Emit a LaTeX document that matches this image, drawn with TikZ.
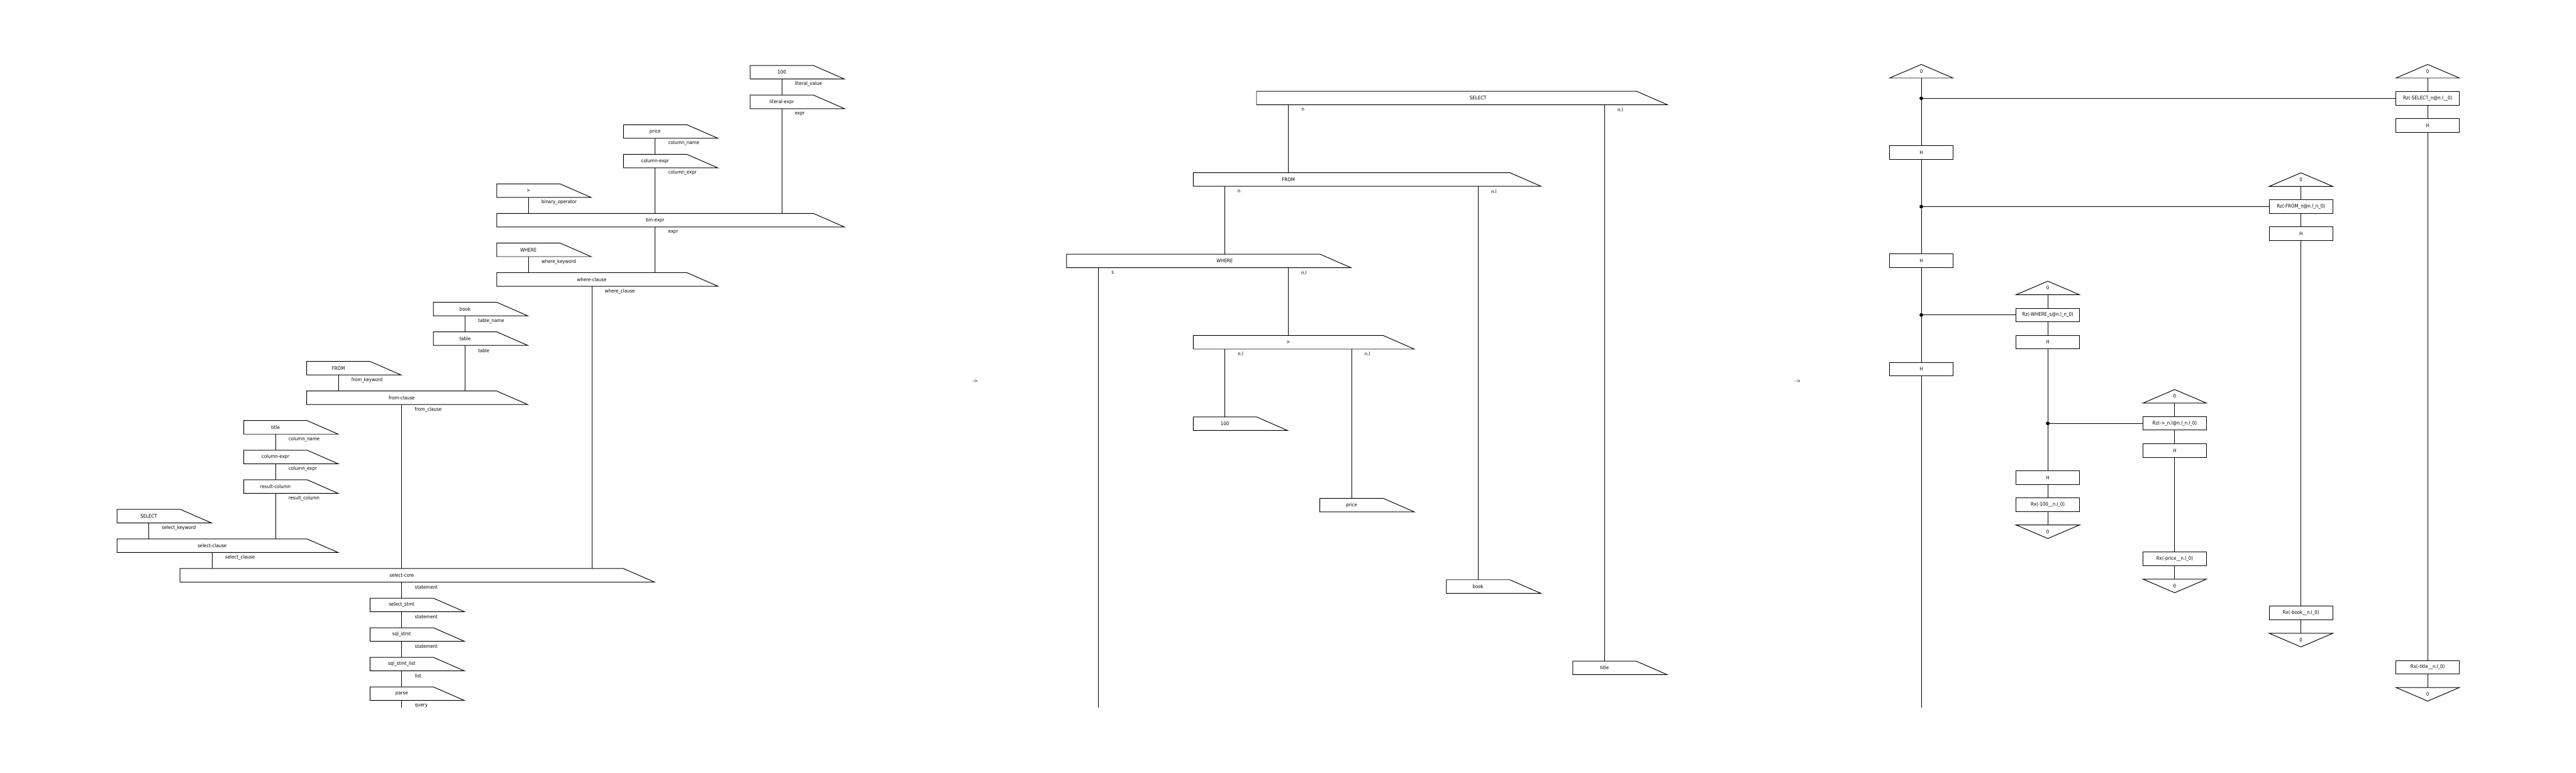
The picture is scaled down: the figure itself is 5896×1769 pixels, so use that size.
\documentclass[tikz,border=0pt]{standalone}
\usepackage{fontspec}
\setmainfont{DejaVu Sans}[FakeStretch=0.9]

\begin{document}
\begin{tikzpicture}[x=0.1mm,y=-0.1mm,
    every node/.style={font=\fontsize{3.2}{3.8}\selectfont,inner sep=0pt,outer sep=0pt},
    tag/.style={minimum width=#1,minimum height=3.1mm},tag/.default=14.5mm,
    gate/.style={draw,line width=0.4pt,minimum width=14.5mm,minimum height=3.1mm},
    qbit/.style={minimum width=14.5mm,minimum height=3.1mm},
    dot/.style={circle,fill,minimum size=0.85mm},
    lbl/.style={anchor=west,xshift=3mm,yshift=-1.15mm},
    wire/.style={line width=0.4pt}]
    \useasboundingbox (0,0) rectangle (5896,1769);
    % parse tree
    \node[tag] (p100) at (1789.5,165.5) {100};
    \node[tag] (plit) at (1789.5,233.2) {literal-expr};
    \node[tag] (pprice) at (1499.5,300.9) {price};
    \node[tag] (pcolb) at (1499.5,368.7) {column-expr};
    \node[tag] (pgt) at (1209.5,436.4) {>};
    \node[tag=72.5mm] (pbin) at (1499.5,504.1) {bin-expr};
    \node[tag] (pwhere) at (1209.5,571.8) {WHERE};
    \node[tag=43.5mm] (pwc) at (1354.5,639.5) {where-clause};
    \node[tag] (pbook) at (1064.5,707.3) {book};
    \node[tag] (ptable) at (1064.5,775.0) {table};
    \node[tag] (pfrom) at (774.5,842.7) {FROM};
    \node[tag=43.5mm] (pfc) at (919.5,910.4) {from-clause};
    \node[tag] (ptitle) at (630.5,978.1) {title};
    \node[tag] (pcola) at (630.5,1045.9) {column-expr};
    \node[tag] (prc) at (630.5,1113.6) {result-column};
    \node[tag] (pselect) at (340.5,1181.3) {SELECT};
    \node[tag=43.5mm] (psc) at (485.5,1249.0) {select-clause};
    \node[tag=101.5mm] (pcore) at (919.5,1316.7) {select-core};
    \node[tag] (pstmt) at (919.5,1384.5) {select\_stmt};
    \node[tag] (psql) at (919.5,1452.2) {sql\_stmt};
    \node[tag] (plist) at (919.5,1519.9) {sql\_stmt\_list};
    \node[tag] (pparse) at (919.5,1587.6) {parse};
    \coordinate (pend) at (919.5,1620);
    \foreach \a/\b/\t in {p100/plit/literal\_value,plit/pbin/expr,pprice/pcolb/column\_name,
        pcolb/pbin/column\_expr,pgt/pbin/binary\_operator,pbin/pwc/expr,pwhere/pwc/where\_keyword,
        pwc/pcore/where\_clause,pbook/ptable/table\_name,ptable/pfc/table,pfrom/pfc/from\_keyword,
        pfc/pcore/from\_clause,ptitle/pcola/column\_name,pcola/prc/column\_expr,prc/psc/result\_column,
        pselect/psc/select\_keyword,psc/pcore/select\_clause,pcore/pstmt/statement,
        pstmt/psql/statement,psql/plist/statement,plist/pparse/list}
      \draw[wire] (\a.south) -- (\a.south |- \b.north) node[lbl,at start] {\t};
    \draw[wire] (pparse.south) -- (pparse.south |- pend) node[lbl,at start] {query};
    \node (arrA) at (2232,873) {->};
    % syntax tree
    \node[tag=87mm,label={[name=aSelect-t,xshift=7.2mm]center:SELECT}] (aSelect) at (3311,224.5) {};
    \node[tag=72.5mm,label={[name=aFrom-t,xshift=-14.45mm]center:FROM}] (aFrom) at (3093.5,410.8) {};
    \node[tag=58mm,label={[name=aWhere-t,xshift=7.2mm]center:WHERE}] (aWhere) at (2731,597.1) {};
    \node[tag=43.5mm,label={[name=aGt-t]center:>}] (aGt) at (2948.5,783.4) {};
    \node[tag,label={[name=a100-t]center:100}] (a100) at (2803.5,969.7) {};
    \node[tag,label={[name=aPrice-t]center:price}] (aPrice) at (3093.5,1156.0) {};
    \node[tag,label={[name=aBook-t]center:book}] (aBook) at (3383,1342.3) {};
    \node[tag,label={[name=aTitle-t]center:title}] (aTitle) at (3672.5,1528.6) {};
    \coordinate (aend) at (2514,1620);
    \foreach \a/\b/\t in {aSelect/aFrom/n,aSelect/aTitle/n.l,aFrom/aWhere/n,aFrom/aBook/n.l,
        aWhere/aGt/n.l,aGt/a100/n.l,aGt/aPrice/n.l}
      \draw[wire] (\b-t |- \a.south) -- (\b-t |- \b.north) node[lbl,at start] {\t};
    \draw[wire] (aend |- aWhere.south) -- (aend) node[lbl,at start] {s};
    \foreach \n in {p100,plit,pprice,pcolb,pgt,pbin,pwhere,pwc,pbook,ptable,pfrom,pfc,ptitle,pcola,
        prc,pselect,psc,pcore,pstmt,psql,plist,pparse,aSelect,aFrom,aWhere,aGt,a100,aPrice,aBook,aTitle}
      \draw[wire] (\n.north west) -- (\n.north east) -- ([xshift=7.1mm]\n.south east) -- (\n.south west) -- cycle;
    \node (arrB) at (4115,873) {->};
    % circuit
    \node[qbit] (q0) at (4397.5,163) {0};
    \node[dot] (d1) at (4397.5,225) {};
    \node[gate] (hA) at (4397.5,349) {H};
    \node[dot] (d2) at (4397.5,473) {};
    \node[gate] (hB) at (4397.5,597) {H};
    \node[dot] (d3) at (4397.5,721) {};
    \node[gate] (hC) at (4397.5,845) {H};
    \coordinate (qend) at (4397.5,1620);
    \node[qbit] (q1) at (4687,659) {0};
    \node[gate] (rz1) at (4687,721) {Rz(-WHERE\_s@n.l\_n\_0)};
    \node[gate] (h1) at (4687,783) {H};
    \node[dot] (d4) at (4687,969) {};
    \node[gate] (h1b) at (4687,1093) {H};
    \node[gate] (rx1) at (4687,1155) {Rx(-100\_\_n.l\_0)};
    \node[qbit] (m1) at (4687,1217) {0};
    \node[qbit] (q2) at (4977.5,907) {0};
    \node[gate] (rz2) at (4977.5,969) {Rz(->\_n.l@n.l\_n.l\_0)};
    \node[gate] (h2) at (4977.5,1031) {H};
    \node[gate] (rx2) at (4977.5,1279) {Rx(-price\_\_n.l\_0)};
    \node[qbit] (m2) at (4977.5,1341) {0};
    \node[qbit] (q3) at (5266.5,411) {0};
    \node[gate] (rz3) at (5266.5,473) {Rz(-FROM\_n@n.l\_n\_0)};
    \node[gate] (h3) at (5266.5,535) {H};
    \node[gate] (rx3) at (5266.5,1403) {Rx(-book\_\_n.l\_0)};
    \node[qbit] (m3) at (5266.5,1465) {0};
    \node[qbit] (q4) at (5556.5,163) {0};
    \node[gate] (rz4) at (5556.5,225) {Rz(-SELECT\_n@n.l\_\_0)};
    \node[gate] (h4) at (5556.5,287) {H};
    \node[gate] (rx4) at (5556.5,1527) {Rx(-title\_\_n.l\_0)};
    \node[qbit] (m4) at (5556.5,1589) {0};
    \foreach \a/\b in {q0/d1,d1/hA,hA/d2,d2/hB,hB/d3,d3/hC,hC/qend,
        q1/rz1,rz1/h1,h1/d4,d4/h1b,h1b/rx1,rx1/m1,q2/rz2,rz2/h2,h2/rx2,rx2/m2,
        q3/rz3,rz3/h3,h3/rx3,rx3/m3,q4/rz4,rz4/h4,h4/rx4,rx4/m4,
        d1/rz4,d2/rz3,d3/rz1,d4/rz2}
      \draw[wire] (\a) -- (\b);
    \foreach \n in {q0,q1,q2,q3,q4}
      \draw[wire] (\n.south west) -- (\n.north) -- (\n.south east) -- cycle;
    \foreach \n in {m1,m2,m3,m4}
      \draw[wire] (\n.north west) -- (\n.south) -- (\n.north east) -- cycle;
\end{tikzpicture}
\end{document}
